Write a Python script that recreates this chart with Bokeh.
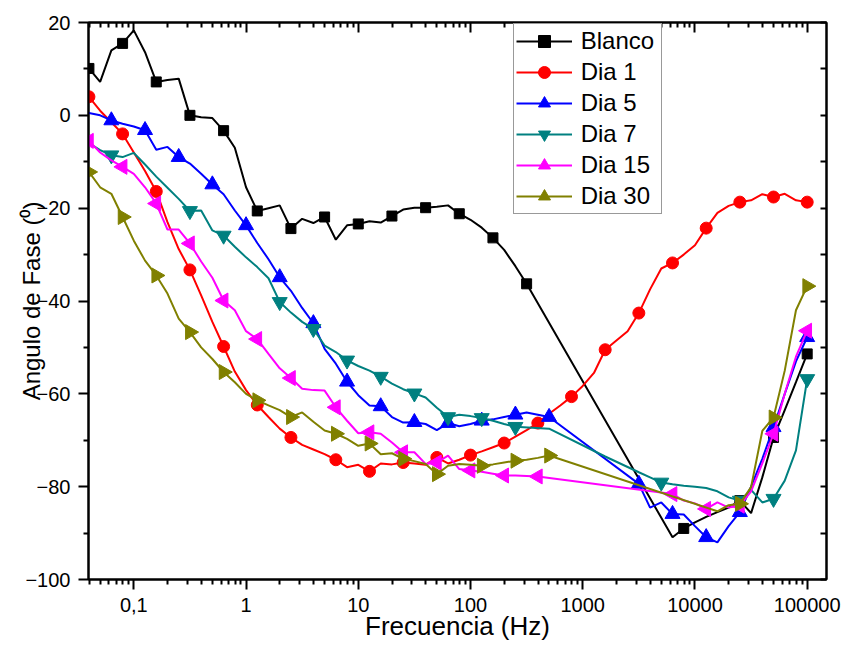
import math
from bokeh.plotting import figure
from bokeh.models import Range1d, FixedTicker, LogAxis, LinearAxis
from bokeh.embed import file_html
from bokeh.resources import INLINE

# Measurement frequencies (Hz), high -> low
FREQ = [100000, 79433, 63096, 50119, 39811, 31623, 25119, 19953, 15849, 12589,
        10000, 7943, 6310, 5012, 3981, 3162, 2512, 1995, 1585, 1259,
        1000, 794.3, 631.0, 501.2, 398.1, 316.2, 251.2, 199.5, 158.5, 125.9,
        100, 79.43, 63.10, 50.12, 39.81, 31.62, 25.12, 19.95, 15.85, 12.59,
        10, 7.943, 6.310, 5.012, 3.981, 3.162, 2.512, 1.995, 1.585, 1.259,
        1.0, 0.7943, 0.6310, 0.5012, 0.3981, 0.3162, 0.2512, 0.1995, 0.1585, 0.1259,
        0.1, 0.07943, 0.06310, 0.05012, 0.03981]

N = None
blanco = [-51.4, -57.5, -63.5, -69.4, -78.0, -85.7, -83.0, -84.5, -85.5, -86.5,
          -87.7, -89.0, -90.9, N, N, N, N, N, N, N,
          N, N, N, N, N, -36.3, -32.5, -29.0, -26.4, -24.2,
          -22.5, -21.2, -19.4, -19.7, -19.9, -19.9, -20.3, -21.7, -23.1, -22.8,
          -23.4, -23.7, -26.8, -21.9, -23.2, -22.3, -24.4, -19.4, -20.0, -20.6,
          -15.5, -7.0, -3.3, -0.6, -0.4, 0.0, 7.9, 7.6, 7.2, 13.6,
          18.3, 15.5, 14.0, 7.2, 10.1]
dia1 = [-18.7, -18.3, -16.9, -17.6, -17.0, -18.3, -18.7, -19.5, -21.0, -24.3,
        -28.0, -30.0, -31.8, -33.0, -37.5, -42.6, -46.5, -48.5, -50.5, -55.5,
        -58.3, -60.6, -62.5, -64.3, -66.3, -67.8, -69.2, -70.6, -71.5, -72.4,
        -73.2, -74.2, -75.0, -73.7, -75.3, -75.0, -74.8, -75.2, -75.0, -76.7,
        -75.3, -75.8, -74.2, -73.0, -72.0, -71.0, -69.4, -67.5, -65.0, -62.4,
        -59.2, -55.2, -49.8, -44.5, -38.8, -33.3, -28.8, -23.0, -16.4, -12.0,
        -8.0, -4.0, -1.5, 1.0, 4.0]
dia5 = [-47.8, -53.0, -60.0, -67.2, -74.0, -80.0, -85.5, -88.5, -92.0, -90.9,
        -88.5, -86.0, -85.9, -83.4, -84.5, -79.4, N, N, N, N,
        N, N, N, -65.0, -64.5, -64.0, -64.5, -65.0, -65.5, -65.8,
        -66.5, -67.0, -66.3, -67.8, -66.5, -66.1, -66.2, -65.0, -62.7, -62.5,
        -60.3, -57.4, -53.5, -50.3, -44.8, -41.5, -37.8, -34.9, -31.0, -27.5,
        -23.7, -20.5, -17.0, -14.9, -12.6, -10.4, -9.0, -6.8, -7.4, -3.2,
        -2.4, -1.8, -1.1, 0.0, 0.5]
dia7 = [-56.8, -72.2, -78.7, -82.6, -83.4, -80.7, -83.0, -82.3, -81.0, -80.3,
        -80.0, -79.8, -79.5, -79.1, -78.0, -76.9, N, N, -73.5, N,
        N, N, N, -67.5, N, N, -67.1, -66.5, -65.8, -65.2,
        -64.8, -64.5, -65.0, -63.0, -60.8, -59.9, -59.0, -57.8, -56.3, -55.0,
        -54.0, -52.8, -51.0, -49.6, -46.0, -44.5, -42.5, -40.2, -35.1, -32.7,
        -30.6, -28.3, -25.9, -24.8, -20.5, -20.6, -18.0, -15.6, -13.2, -10.6,
        -8.1, -9.0, -8.6, -7.5, -6.0]
dia15 = [-46.4, -52.0, -60.0, -68.6, -75.0, -81.0, -84.1, -84.5, -83.4, -84.8,
         -83.6, -83.0, -81.6, N, N, N, N, N, N, N,
         N, N, N, N, -77.8, -77.7, -77.6, -77.6, -77.2, -76.8,
         -76.5, -76.2, -73.3, -74.8, -75.1, -72.6, -72.6, -70.5, -68.6, -68.3,
         -68.5, -65.8, -62.9, -59.3, -59.2, -58.9, -56.6, -54.5, -51.4, -48.2,
         -46.5, -42.0, -39.9, -35.0, -31.5, -27.6, -24.6, -24.6, -19.0, -15.5,
         -12.6, -11.1, -9.7, -8.0, -5.5]
dia30 = [-36.8, -42.0, -55.0, -65.1, -68.0, -80.1, -83.7, -84.0, -85.3, N,
         N, N, N, N, N, N, N, N, N, N,
         N, N, N, -73.3, -73.8, -74.2, -74.4, -74.8, -75.2, -75.5,
         -75.3, -75.1, -75.5, -77.3, -75.1, -74.5, -74.0, -72.8, -73.0, -70.7,
         -71.2, -69.7, -68.6, -67.9, -66.0, -64.0, -65.0, -63.5, -62.5, -61.4,
         -60.0, -57.5, -55.3, -52.5, -50.0, -46.7, -43.8, -38.4, -34.5, -31.3,
         -27.0, -21.9, -16.9, -15.5, -12.2]

# Frequencies at which a marker symbol is drawn
blanco_mk = [100000, 50119, 25119, 7943, 316.2, 158.5, 79.43, 39.81, 19.95, 10,
             5.012, 2.512, 1.259, 0.6310, 0.3162, 0.1585, 0.07943, 0.03981]
dia1_mk = [100000, 50119, 25119, 12589, 6310, 3162, 1585, 794.3, 398.1, 199.5, 100,
           50.12, 25.12, 12.59, 6.310, 2.512, 1.259, 0.6310, 0.3162, 0.1585, 0.07943, 0.03981]
dia5_mk = [100000, 50119, 25119, 12589, 6310, 3162, 501.2, 251.2, 125.9, 63.10,
           31.62, 15.85, 7.943, 3.981, 1.995, 1.0, 0.5012, 0.2512, 0.1259, 0.06310]
dia7_mk = [100000, 50119, 25119, 5012, 251.2, 125.9, 63.10, 31.62, 15.85, 7.943,
           3.981, 1.995, 0.6310, 0.3162, 0.06310]
dia15_mk = [100000, 50119, 25119, 12589, 6310, 398.1, 199.5, 100, 50.12, 25.12,
            12.59, 6.310, 2.512, 1.259, 0.6310, 0.3162, 0.1585, 0.07943, 0.03981]
dia30_mk = [100000, 50119, 25119, 501.2, 251.2, 125.9, 50.12, 25.12, 12.59, 6.310,
            2.512, 1.259, 0.6310, 0.3162, 0.1585, 0.07943, 0.03981]

X_TICKS = [0.1, 1, 10, 100, 1000, 10000, 100000]
X_LABELS = ["0,1", "1", "10", "100", "1000", "10000", "100000"]
X_MINOR = [0.04, 0.05, 0.06, 0.07, 0.08, 0.09] + [m * 10 ** e for e in range(-1, 5) for m in range(2, 10)]
Y_TICKS = [-100, -80, -60, -40, -20, 0, 20]
Y_MINOR = [-90, -70, -50, -30, -10, 10]
Y_RIGHT = [-100, -90, -80, -70, -60, -50, -40, -30, -20, -10, 0, 10, 20]

series = [
    ("Blanco", blanco, blanco_mk, "#000000", "square", 0.0, 10),
    ("Dia 1", dia1, dia1_mk, "#FF0000", "circle", 0.0, 12),
    ("Dia 5", dia5, dia5_mk, "#0000FF", "triangle", 0.0, 15),
    ("Dia 7", dia7, dia7_mk, "#008080", "inverted_triangle", 0.0, 15),
    ("Dia 15", dia15, dia15_mk, "#FF00FF", "triangle", math.pi / 2, 15),
    ("Dia 30", dia30, dia30_mk, "#808000", "triangle", -math.pi / 2, 15),
]

FONT = "Liberation Sans"

p = figure(width=844, height=645, x_axis_type="log",
           x_range=Range1d(0.03947, 148600), y_range=Range1d(-100, 20),
           output_backend="svg", toolbar_location=None,
           min_border_left=88, min_border_right=18, min_border_top=22, min_border_bottom=66)
p.grid.visible = False
p.outline_line_color = "black"
p.outline_line_width = 2
p.background_fill_color = "white"
p.border_fill_color = "white"

ax = p.xaxis[0]
ax.ticker = FixedTicker(ticks=X_TICKS, minor_ticks=X_MINOR)
ax.major_label_overrides = {t: l for t, l in zip(X_TICKS, X_LABELS)}
ax.axis_label = "Frecuencia (Hz)"
ax.axis_label_standoff = -4
ay = p.yaxis[0]
ay.ticker = FixedTicker(ticks=Y_TICKS, minor_ticks=Y_MINOR)
ay.axis_label = "Angulo de Fase (\u2070)"
ay.axis_label_standoff = -23
for a, fs in ((ax, "26px"), (ay, "24px")):
    a.axis_line_width = 2
    a.major_tick_line_width = 2
    a.minor_tick_line_width = 2
    a.major_tick_out = 10
    a.major_tick_in = 0
    a.minor_tick_out = 5
    a.minor_tick_in = 0
    a.major_label_text_font = FONT
    a.major_label_text_font_size = "20px"
    a.major_label_text_color = "black"
    a.major_label_standoff = 8
    a.axis_label_text_font = FONT
    a.axis_label_text_font_size = fs
    a.axis_label_text_font_style = "normal"
    a.axis_label_text_color = "black"

top = LogAxis(ticker=FixedTicker(ticks=X_TICKS, minor_ticks=X_MINOR),
              major_tick_in=10, major_tick_out=0, minor_tick_in=5, minor_tick_out=0,
              axis_line_width=2, major_tick_line_width=2, minor_tick_line_width=2,
              major_label_text_font_size="1px", major_label_text_alpha=0.0,
              major_label_standoff=0)
right = LinearAxis(ticker=FixedTicker(ticks=Y_RIGHT, minor_ticks=[]),
                   major_tick_in=6, major_tick_out=0, minor_tick_in=0, minor_tick_out=0,
                   axis_line_width=2, major_tick_line_width=2,
                   major_label_text_font_size="1px", major_label_text_alpha=0.0,
                   major_label_standoff=0)
p.add_layout(top, "above")
p.add_layout(right, "right")

for name, vals, mk, color, marker, ang, size in series:
    xs = [f for f, v in zip(FREQ, vals) if v is not None]
    ys = [v for v in vals if v is not None]
    p.line(xs, ys, line_color=color, line_width=2, legend_label=name)
    mx = list(mk)
    my = [vals[FREQ.index(f)] for f in mk]
    p.scatter(mx, my, marker=marker, size=size, angle=ang, fill_color=color,
              line_color=color, legend_label=name)

lg = p.legend[0]
lg.location = (424.7, 365)
lg.label_text_font = FONT
lg.label_text_font_size = "24px"
lg.label_text_color = "black"
lg.glyph_width = 56
lg.glyph_height = 30
lg.label_height = 30
lg.label_width = 78
lg.spacing = 1
lg.padding = 2
lg.margin = 0
lg.label_standoff = 9
lg.border_line_color = "#333333"
lg.border_line_width = 1
lg.background_fill_color = "white"
lg.background_fill_alpha = 1.0

open("out.html", "w").write(file_html(p, INLINE))
